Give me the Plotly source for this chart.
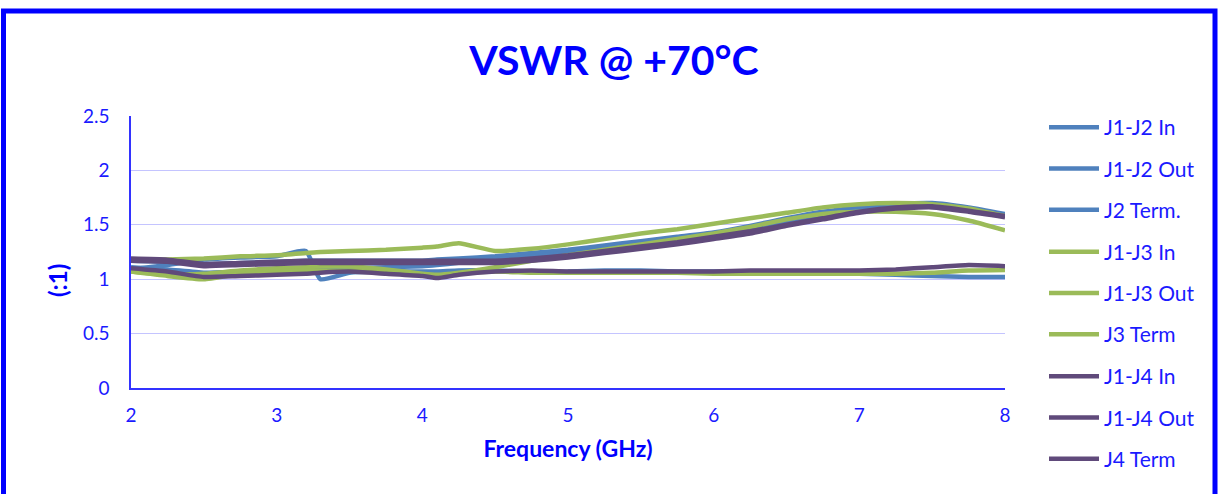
import plotly.graph_objects as go

FREQ = [2.0, 2.25, 2.5, 2.75, 3.0, 3.2, 3.3, 3.5, 3.75, 4.0, 4.1, 4.25, 4.5, 4.75,
        5.0, 5.25, 5.5, 5.75, 6.0, 6.25, 6.5, 6.75, 7.0, 7.25, 7.5, 7.75, 8.0]

J1_J2_IN = [1.17, 1.16, 1.14, 1.15, 1.16, 1.17, 1.17, 1.17, 1.17, 1.17, 1.18, 1.19, 1.21, 1.24,
            1.27, 1.31, 1.35, 1.39, 1.43, 1.49, 1.56, 1.62, 1.66, 1.69, 1.70, 1.66, 1.60]
J1_J2_OUT = [1.11, 1.09, 1.06, 1.07, 1.08, 1.09, 1.09, 1.10, 1.11, 1.12, 1.13, 1.15, 1.18, 1.21,
             1.24, 1.28, 1.32, 1.36, 1.41, 1.46, 1.53, 1.59, 1.64, 1.67, 1.68, 1.64, 1.59]
J2_TERM = [1.09, 1.13, 1.18, 1.20, 1.21, 1.26, 1.00, 1.06, 1.07, 1.07, 1.07, 1.08, 1.08, 1.07,
           1.07, 1.08, 1.08, 1.07, 1.07, 1.07, 1.06, 1.06, 1.05, 1.04, 1.03, 1.02, 1.02]
J1_J3_IN = [1.17, 1.18, 1.19, 1.21, 1.22, 1.24, 1.25, 1.26, 1.27, 1.29, 1.30, 1.33, 1.26, 1.28,
            1.32, 1.37, 1.42, 1.46, 1.51, 1.56, 1.61, 1.66, 1.69, 1.70, 1.69, 1.65, 1.58]
J1_J3_OUT = [1.07, 1.04, 1.05, 1.08, 1.10, 1.11, 1.12, 1.12, 1.09, 1.05, 1.04, 1.06, 1.11, 1.17,
             1.22, 1.27, 1.32, 1.37, 1.42, 1.48, 1.55, 1.60, 1.62, 1.62, 1.60, 1.54, 1.45]
J3_TERM = [1.07, 1.03, 1.00, 1.05, 1.07, 1.08, 1.08, 1.08, 1.06, 1.04, 1.03, 1.05, 1.07, 1.06,
           1.06, 1.06, 1.06, 1.06, 1.05, 1.05, 1.05, 1.05, 1.05, 1.05, 1.06, 1.08, 1.085]
J1_J4_IN = [1.19, 1.18, 1.14, 1.15, 1.16, 1.17, 1.17, 1.17, 1.17, 1.17, 1.17, 1.17, 1.17, 1.19,
            1.22, 1.26, 1.30, 1.34, 1.39, 1.44, 1.50, 1.56, 1.62, 1.66, 1.67, 1.63, 1.58]
J1_J4_OUT = [1.17, 1.16, 1.12, 1.13, 1.14, 1.15, 1.15, 1.15, 1.15, 1.15, 1.15, 1.15, 1.15, 1.17,
             1.20, 1.24, 1.28, 1.32, 1.37, 1.42, 1.49, 1.55, 1.61, 1.65, 1.66, 1.62, 1.57]
J4_TERM = [1.10, 1.07, 1.02, 1.03, 1.04, 1.05, 1.06, 1.07, 1.05, 1.03, 1.01, 1.04, 1.07, 1.08,
           1.07, 1.07, 1.07, 1.07, 1.07, 1.08, 1.08, 1.08, 1.08, 1.09, 1.11, 1.13, 1.12]

NAMES = ["J1-J2 In", "J1-J2 Out", "J2 Term.", "J1-J3 In", "J1-J3 Out", "J3 Term",
         "J1-J4 In", "J1-J4 Out", "J4 Term"]
SERIES = [J1_J2_IN, J1_J2_OUT, J2_TERM, J1_J3_IN, J1_J3_OUT, J3_TERM,
          J1_J4_IN, J1_J4_OUT, J4_TERM]
BLUE, GREEN, PURPLE = "#4F81BD", "#9BBB59", "#604A7B"
COLORS = [BLUE, BLUE, BLUE, GREEN, GREEN, GREEN, PURPLE, PURPLE, PURPLE]

TXT = "#1a1aff"
FONT = "Lato"

W, H = 1220, 494
L, R, T, B = 131, 215, 116, 106
PW, PH = W - L - R, H - T - B


def px_x(sx):
    return (sx - L) / PW


def px_y(sy):
    return (H - B - sy) / PH


LEGENDS = ["legend", "legend2", "legend3"]

fig = go.Figure()
for i, (name, ys, col) in enumerate(zip(NAMES, SERIES, COLORS)):
    fig.add_trace(go.Scatter(
        x=FREQ, y=ys, name=name, mode="lines", legendgroup=f"g{i}",
        legend=LEGENDS[i // 3],
        line=dict(color=col, width=4.5, shape="spline", smoothing=0.5),
    ))

legend_style = dict(xanchor="left", yanchor="top",
                    font=dict(family=FONT, size=21, color=TXT),
                    itemwidth=50, tracegroupgap=11, bgcolor="rgba(0,0,0,0)")

fig.update_layout(
    width=W, height=H,
    margin=dict(l=L, r=R, t=T, b=B),
    paper_bgcolor="white", plot_bgcolor="white",
    font=dict(family=FONT, color=TXT, size=19),
    title=dict(text="<b>VSWR @ +70°C</b>",
               x=614 / W, xref="container", xanchor="center",
               y=1 - 61 / H, yref="container", yanchor="middle",
               font=dict(family=FONT, size=41, color="#0000ff")),
    showlegend=True,
    legend=dict(x=px_x(1044), y=px_y(107), **legend_style),
    legend2=dict(x=px_x(1044), y=px_y(231.5), **legend_style),
    legend3=dict(x=px_x(1044), y=px_y(356), **legend_style),
    xaxis=dict(range=[2, 8], dtick=1, tick0=2, showgrid=False,
               showline=True, linecolor="#3333ff", linewidth=1.5,
               ticks="", ticklabelstandoff=9, zeroline=False,
               tickfont=dict(size=19, color=TXT),
               title=dict(text="<b>Frequency (GHz)</b>", standoff=16,
                          font=dict(size=23, color="#0000ff"))),
    yaxis=dict(range=[0, 2.5], dtick=0.5, tick0=0, showgrid=True,
               gridcolor="#c4c4ff", gridwidth=1,
               showline=True, linecolor="#3333ff", linewidth=1.5,
               ticks="", ticklabelstandoff=16, zeroline=False,
               tickfont=dict(size=19, color=TXT)),
    annotations=[dict(text="<b>(:1)</b>", textangle=-90, xref="paper", yref="paper",
                      x=px_x(57), y=px_y(281), xanchor="center",
                      yanchor="middle", showarrow=False,
                      font=dict(family=FONT, size=24, color="#0000ff"))],
    shapes=[dict(type="rect", xref="paper", yref="paper",
                 x0=px_x(3.5), x1=px_x(1215),
                 y0=px_y(540), y1=px_y(11),
                 line=dict(color="#0000ff", width=5), fillcolor="rgba(0,0,0,0)",
                 layer="above")],
)

fig.write_html(
    "out.html",
    config={"displayModeBar": False},
    post_script="document.body.style.margin='0px';document.body.style.overflow='hidden';",
)
